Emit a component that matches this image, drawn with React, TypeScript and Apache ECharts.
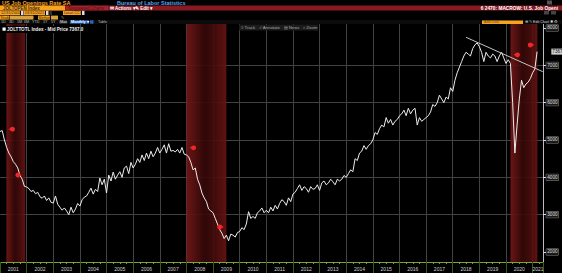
import React, { useEffect, useRef } from "react";
import * as echarts from "echarts";

// Job openings (thousands), month-end values from Dec 2000 to Feb 2021
const firstMonthPos = 2001.0; // Dec-2000 month end
const v2000 = [5230];
const v2001 = [5250, 5000, 4800, 4650, 4550, 4420, 4350, 4250, 4050, 3950, 3760, 3740];
const v2002 = [3700, 3620, 3650, 3560, 3600, 3480, 3440, 3500, 3380, 3450, 3330, 3310];
const v2003 = [3500, 3280, 3200, 3120, 3180, 3100, 3000, 3200, 3050, 3150, 3300, 3230];
const v2004 = [3400, 3470, 3500, 3600, 3710, 3550, 3680, 3620, 3980, 3800, 3950, 3580];
const v2005 = [4060, 3900, 4140, 3950, 4060, 4150, 4000, 4250, 4300, 4100, 4400, 4250];
const v2006 = [4350, 4500, 4400, 4600, 4450, 4650, 4500, 4700, 4550, 4650, 4800, 4650];
const v2007 = [4750, 4870, 4650, 4900, 4700, 4720, 4680, 4750, 4650, 4800, 4620, 4600];
const v2008 = [4550, 4400, 4200, 4250, 3950, 3800, 3580, 3450, 3350, 3150, 3100, 3050];
const v2009 = [2900, 2750, 2600, 2500, 2360, 2450, 2300, 2480, 2450, 2400, 2520, 2550];
const v2010 = [2650, 2600, 2750, 3080, 2900, 2950, 2900, 3050, 3100, 3180, 3050, 3120];
const v2011 = [3050, 3200, 3100, 3250, 3150, 3300, 3400, 3350, 3250, 3450, 3350, 3550];
const v2012 = [3600, 3700, 3800, 3650, 3750, 3700, 3600, 3750, 3680, 3700, 3800, 3650];
const v2013 = [3850, 3900, 3800, 3850, 3950, 3880, 3800, 3950, 3900, 3950, 4050, 4000];
const v2014 = [4100, 4200, 4150, 4500, 4450, 4650, 4700, 4850, 4750, 4850, 4900, 5000];
const v2015 = [5200, 5150, 5300, 5400, 5350, 5600, 5450, 5550, 5400, 5500, 5550, 5650];
const v2016 = [5700, 5800, 5650, 5850, 5700, 5800, 5850, 5400, 5600, 5500, 5550, 5600];
const v2017 = [5650, 5750, 5950, 5900, 6000, 6200, 6100, 6000, 6150, 6100, 6400, 6300];
const v2018 = [6600, 6800, 6950, 7100, 7250, 7350, 7300, 7250, 7450, 7550, 7600, 7500];
const v2019 = [7350, 7100, 7350, 7250, 7200, 7300, 7250, 7100, 7250, 7350, 7200, 7050];
const v2020 = [7150, 7050, 6000, 4650, 5400, 6100, 6600, 6400, 6500, 6550, 6650, 6800];
const v2021 = [6900, 7367];

const openings = [
  ...v2000, ...v2001, ...v2002, ...v2003, ...v2004, ...v2005, ...v2006, ...v2007,
  ...v2008, ...v2009, ...v2010, ...v2011, ...v2012, ...v2013, ...v2014, ...v2015,
  ...v2016, ...v2017, ...v2018, ...v2019, ...v2020, ...v2021,
];
const monthPos = openings.map((_, i) => firstMonthPos + i / 12);

const recessionStarts = [2001.24, 2008.0, 2020.17];
const recessionEnds = [2001.94, 2009.5, 2021.18];

const eventX = [2001.3, 2001.84, 2008.1, 2009.42, 2020.26, 2021.08];
const eventY = [5290, 4060, 4790, 2670, 7280, 7545];
const eventKind = ["start", "end", "start", "end", "start", "end"];

const trendX = [2018.5, 2021.38];
const trendY = [7750, 6830];

const yTickValues = [2000, 3000, 4000, 5000, 6000, 7000, 8000];
const yearLabelYears = [
  2001, 2002, 2003, 2004, 2005, 2006, 2007, 2008, 2009, 2010,
  2011, 2012, 2013, 2014, 2015, 2016, 2017, 2018, 2019, 2020, 2021,
];
const lastPrice = 7367;
const xMin = 2001;
const xMax = 2021.4;
const yMin = 1732;
const yMax = 8107;

const FONT = "Liberation Sans, Arial, sans-serif";

function txt(x: number, y: number, text: string, fill: string, size = 5, weight = "normal", align = "left") {
  return {
    type: "text",
    x,
    y,
    z: 101,
    style: { text, fill, fontSize: size, fontFamily: FONT, fontWeight: weight, align, verticalAlign: "middle" },
  };
}
function box(x: number, y: number, w: number, h: number, fill: string) {
  return {
    type: "rect",
    z: 100,
    shape: { x, y, width: w, height: h },
    style: { fill },
  };
}

export default function App() {
  const ref = useRef<HTMLDivElement>(null);
  useEffect(() => {
    if (!ref.current) return;
    const chart = echarts.init(ref.current, null, { renderer: "svg" });

    const ORANGE = "#f6a31e";
    const RED = "#8a1a22";
    const yearLabelPos = yearLabelYears.map((y) => Math.min(y + 0.5, (y + xMax) / 2));

    const graphics: any[] = [
      // row 1
      box(0, 0, 562, 5.5, "#000"),
      txt(2, 3, "US Job Openings Rate SA", "#f7a52a", 5.5, "bold"),
      txt(117, 3, "Bureau of Labor Statistics", "#4aa8f0", 5.5, "bold"),
      box(547, 0.5, 5, 4, "#555"),
      // row 2
      box(0, 5.5, 562, 5, RED),
      box(0, 5.5, 65, 5, ORANGE),
      txt(3, 8, "JOLTOPEN Index", "#3a2a10", 4.5, "bold"),
      box(66, 5.8, 42, 4.4, "#a3242c"),
      txt(68, 8, "Suggested Charts", "#5a0d12", 4.5),
      txt(110, 8, "\u2709 Actions \u25BE", "#ffffff", 4.5, "bold"),
      txt(135, 8, "\u270E Edit \u25BE", "#ffffff", 4.5, "bold"),
      txt(558, 8, "6 2470: MACROW: U.S. Job Openi", "#ffffff", 4.8, "bold", "right"),
      // row 3
      box(0, 10.8, 20, 4.2, ORANGE),
      txt(1, 13, "12/31/2000", "#3a2a10", 3.8),
      box(21, 10.8, 2.5, 4.2, "#ddd"),
      box(24, 10.8, 21, 4.2, ORANGE),
      txt(25, 13, "03/31/2021", "#3a2a10", 3.8),
      box(46, 10.8, 2.5, 4.2, "#ddd"),
      box(49.5, 10.8, 2.5, 4.2, "#333"),
      box(63, 10.8, 18, 4.2, ORANGE),
      txt(64, 13, "Local CCY", "#3a2a10", 3.8),
      box(82, 10.8, 2.5, 4.2, "#ddd"),
      box(544, 11, 5, 3.5, "#444"),
      box(551, 11, 5, 3.5, "#444"),
      // row 4
      box(0, 15.6, 9, 4, ORANGE),
      txt(0.5, 17.6, "Study", "#3a2a10", 3.6),
      box(9.5, 15.6, 24, 4, "#d8a040"),
      box(38, 15.6, 12, 4, ORANGE),
      txt(38.5, 17.6, "Method", "#3a2a10", 3.6),
      box(51, 15.6, 7, 4, "#d8a040"),
      txt(61, 17.6, "\u270E", "#cccccc", 4),
      // row 5
      box(0, 20, 562, 4, "#0b0b0b"),
      txt(1, 22, "1D", "#bbbbbb", 3.8),
      txt(9, 22, "3D", "#bbbbbb", 3.8),
      txt(17, 22, "1M", "#bbbbbb", 3.8),
      txt(24, 22, "6M", "#bbbbbb", 3.8),
      txt(32, 22, "YTD", "#bbbbbb", 3.8),
      txt(43, 22, "1Y", "#bbbbbb", 3.8),
      txt(51, 22, "5Y", "#bbbbbb", 3.8),
      box(59, 20.3, 8, 3.4, "#333"),
      txt(60, 22, "Max", "#dddddd", 3.8),
      box(70, 20.3, 19, 3.4, "#2565c4"),
      txt(71, 22, "Monthly \u25BE", "#ffffff", 3.8, "bold"),
      box(90, 20.3, 3.5, 3.4, "#2565c4"),
      txt(98, 22, "Table", "#bbbbbb", 3.8),
      box(482, 20.5, 41, 3.6, ORANGE),
      txt(484, 22.3, "Add Data", "#6a4a10", 3.6),
      txt(525, 22.3, "\u2295 \u270E Edit Chart \u2731 \u2699", "#dddddd", 3.6),
      // legend & toolbar inside plot
      box(1, 26, 71, 7, "#000"),
      box(2.5, 27.6, 3.2, 3.2, "#ffffff"),
      txt(7, 29.3, "JOLTTOTL Index - Mid Price 7367.0", "#f0f0f0", 4.6, "bold"),
      box(239, 24.5, 79, 6, "#1c1c1c"),
      txt(241, 27.6, "\u2261 Track   \u2713 Annotate   \u25A4 News   \u2315 Zoom", "#a8a8a8", 4.3),
    ];

    const bandColor = {
      type: "linear",
      x: 0,
      y: 0,
      x2: 1,
      y2: 0,
      colorStops: [
        { offset: 0, color: "rgba(120,24,24,0.9)" },
        { offset: 0.45, color: "rgba(52,8,8,0.92)" },
        { offset: 0.7, color: "rgba(70,12,12,0.92)" },
        { offset: 1, color: "rgba(105,20,20,0.9)" },
      ],
    };

    chart.setOption({
      animation: false,
      backgroundColor: "#000",
      grid: { left: 0, right: 16, top: 24, bottom: 11, containLabel: false },
      xAxis: {
        type: "value",
        min: xMin,
        max: xMax,
        interval: 1,
        axisLine: { show: true, lineStyle: { color: "#7ea232", width: 1 } },
        axisTick: { show: true, length: 11, lineStyle: { color: "#3d5a14", width: 1 } },
        minorTick: { show: true, splitNumber: 4, length: 2, lineStyle: { color: "#7ea232" } },
        axisLabel: {
          customValues: yearLabelPos,
          formatter: (v: number) => String(Math.floor(v)),
          color: "#cfcfcf",
          fontSize: 5,
          fontFamily: FONT,
          margin: 4,
        },
        splitLine: { show: true, showMinLine: false, showMaxLine: false, lineStyle: { color: "#424242", width: 1 } },
      },
      yAxis: {
        type: "value",
        position: "right",
        min: yMin,
        max: yMax,
        axisLine: { show: true, lineStyle: { color: "#bdbdbd", width: 1 } },
        axisTick: { show: true, customValues: yTickValues, length: 3, lineStyle: { color: "#dddddd" } },
        axisLabel: {
          customValues: yTickValues,
          formatter: (v: number) => String(v),
          color: "#e0e0e0",
          fontSize: 4.6,
          fontFamily: FONT,
          margin: 3,
          backgroundColor: "#1a1a1a",
          borderColor: "#8a8a8a",
          borderWidth: 0.5,
          padding: [0.5, 1, 0.5, 1],
        },
        splitLine: { show: true, showMinLine: false, showMaxLine: false, lineStyle: { color: "#424242", width: 1 } },
      },
      series: [
        {
          type: "line",
          data: monthPos.map((x, i) => [x, openings[i]]),
          symbol: "none",
          lineStyle: { color: "#ececec", width: 1 },
          z: 3,
          markArea: {
            silent: true,
            itemStyle: { color: bandColor as any },
            data: recessionStarts.map((s, i) => [{ xAxis: s }, { xAxis: recessionEnds[i] }]),
          },
          markPoint: {
            silent: true,
            symbol: "rect",
            symbolSize: 0.1,
            label: {
              show: true,
              position: "right",
              distance: 8,
              formatter: String(lastPrice),
              color: "#111",
              backgroundColor: "#d0d0d0",
              fontSize: 4.6,
              fontFamily: FONT,
              padding: [0.5, 1, 0.5, 1],
            },
            data: [{ coord: [xMax, lastPrice] }],
          },
        },
        {
          type: "line",
          data: trendX.map((x, i) => [x, trendY[i]]),
          symbol: "none",
          lineStyle: { color: "#c4c4c4", width: 1 },
          z: 4,
        },
        {
          type: "scatter",
          data: eventX.map((x, i) => ({
            value: [x, eventY[i]],
            symbolRotate: eventKind[i] === "start" ? -90 : 90,
          })),
          symbol: "pin",
          symbolSize: 8,
          itemStyle: { color: "#f0262b", opacity: 1 },
          z: 5,
        },
      ],
      graphic: { elements: graphics },
    });
    return () => chart.dispose();
  }, []);
  return (
    <div
      ref={ref}
      style={{ position: "fixed", left: 0, top: 0, width: 562, height: 273, background: "#000" }}
    />
  );
}
